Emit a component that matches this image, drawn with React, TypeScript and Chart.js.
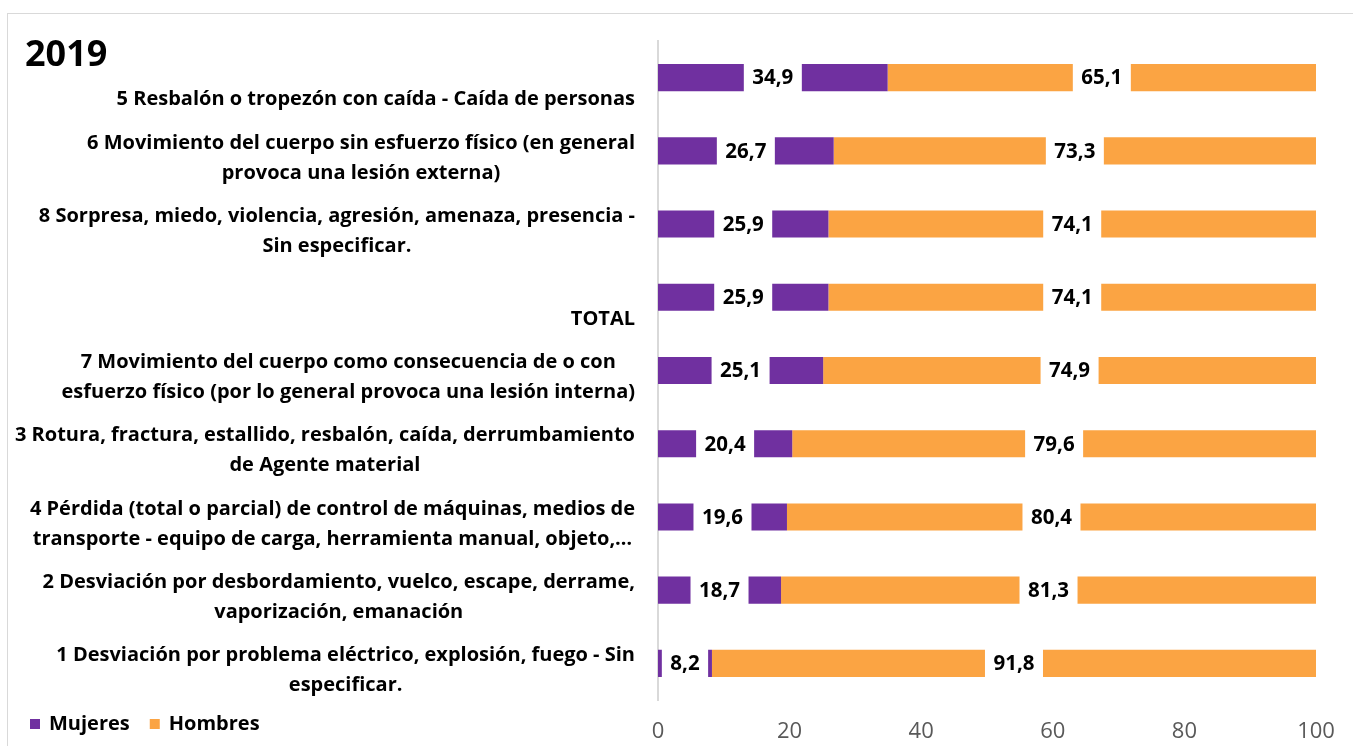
import React, { useEffect, useRef } from "react";
import { Chart, registerables } from "chart.js";

Chart.register(...registerables);

const chartTitle = "2019";
const categories: string[][] = [
  ["", "5 Resbalón o tropezón con caída - Caída de personas"],
  ["6 Movimiento del cuerpo sin esfuerzo físico (en general", "provoca una lesión externa)"],
  ["8 Sorpresa, miedo, violencia, agresión, amenaza, presencia -", "Sin especificar."],
  ["", "TOTAL"],
  ["7 Movimiento del cuerpo como consecuencia de o con", "esfuerzo físico (por lo general provoca una lesión interna)"],
  ["3 Rotura, fractura, estallido, resbalón, caída, derrumbamiento", "de Agente material"],
  ["4 Pérdida (total o parcial) de control de máquinas, medios de", "transporte - equipo de carga, herramienta manual, objeto,…"],
  ["2 Desviación por desbordamiento, vuelco, escape, derrame,", "vaporización, emanación"],
  ["1 Desviación por problema eléctrico, explosión, fuego - Sin", "especificar."],
];
const mujeres = [34.9, 26.7, 25.9, 25.9, 25.1, 20.4, 19.6, 18.7, 8.2];
const hombres = [65.1, 73.3, 74.1, 74.1, 74.9, 79.6, 80.4, 81.3, 91.8];
const seriesNames = ["Mujeres", "Hombres"];
const xMin = 0;
const xMax = 100;
const xStep = 20;

const PURPLE = "#7030A0";
const ORANGE = "#FBA443";
const FONT = "'Open Sans', 'DejaVu Sans', sans-serif";

const CANVAS_W = 1345;
const CANVAS_H = 732;

const decorPlugin = {
  id: "decor",
  afterDatasetsDraw(chart: any) {
    const ctx = chart.ctx;
    ctx.save();
    ctx.font = `bold 20.5px ${FONT}`;
    ctx.textAlign = "center";
    ctx.textBaseline = "middle";
    chart.data.datasets.forEach((ds: any, di: number) => {
      const meta = chart.getDatasetMeta(di);
      meta.data.forEach((el: any, i: number) => {
        const v = ds.data[i] as number;
        const txt = v.toFixed(1).replace(".", ",");
        const cx = (el.x + el.base) / 2;
        const w = ctx.measureText(txt).width + 17;
        const h = el.height + 2;
        ctx.fillStyle = "#ffffff";
        ctx.fillRect(cx - w / 2, el.y - h / 2, w, h);
        ctx.fillStyle = "#000000";
        ctx.fillText(txt, cx, el.y + 1);
      });
    });
    ctx.restore();
  },
  afterDraw(chart: any) {
    const ctx = chart.ctx;
    const yScale = chart.scales.y;
    const area = chart.chartArea;
    ctx.save();
    ctx.font = `bold 20px ${FONT}`;
    ctx.fillStyle = "#000000";
    ctx.textAlign = "center";
    ctx.textBaseline = "middle";
    const right = area.left - 23;
    const lineH = 30;
    (chart.data.labels as string[][]).forEach((lines, i) => {
      const yc = yScale.getPixelForValue(i) + 7;
      let maxW = 0;
      lines.forEach((l) => {
        maxW = Math.max(maxW, ctx.measureText(l).width);
      });
      const cx = right - maxW / 2;
      const y0 = yc - ((lines.length - 1) * lineH) / 2;
      lines.forEach((l, k) => {
        if (l) ctx.fillText(l, cx, y0 + k * lineH);
      });
    });
    // title
    ctx.textAlign = "left";
    ctx.textBaseline = "alphabetic";
    ctx.font = `bold 36px ${FONT}`;
    ctx.fillText(chartTitle, 17, 52);
    // legend
    ctx.font = `bold 20px ${FONT}`;
    ctx.textBaseline = "middle";
    let x = 22;
    const ly = 710;
    chart.data.datasets.forEach((ds: any) => {
      ctx.fillStyle = ds.backgroundColor;
      ctx.fillRect(x, ly - 5, 10, 10);
      ctx.fillStyle = "#000000";
      ctx.fillText(ds.label, x + 19, ly);
      x += 19 + ctx.measureText(ds.label).width + 20;
    });
    ctx.restore();
  },
};

export default function App() {
  const ref = useRef<HTMLCanvasElement | null>(null);
  useEffect(() => {
    if (!ref.current) return;
    const chart = new Chart(ref.current, {
      type: "bar",
      data: {
        labels: categories as any,
        datasets: [
          {
            label: seriesNames[0],
            data: mujeres,
            backgroundColor: PURPLE,
            barPercentage: 0.37,
            categoryPercentage: 1,
          },
          {
            label: seriesNames[1],
            data: hombres,
            backgroundColor: ORANGE,
            barPercentage: 0.37,
            categoryPercentage: 1,
          },
        ],
      },
      options: {
        indexAxis: "y",
        responsive: false,
        animation: false,
        devicePixelRatio: 1,
        layout: { padding: { top: 27, right: 37, bottom: 0, left: 0 } },
        plugins: {
          legend: { display: false },
          tooltip: { enabled: false },
          title: { display: false },
        },
        scales: {
          x: {
            stacked: true,
            min: xMin,
            max: xMax,
            grid: { display: false },
            border: { display: false },
            ticks: {
              stepSize: xStep,
              padding: 11,
              color: "#595959",
              font: { family: FONT, size: 22 },
            },
            afterFit: (scale: any) => {
              scale.height = 46;
            },
          },
          y: {
            stacked: true,
            grid: { display: false },
            border: { display: true, color: "#d9d9d9", width: 2 },
            ticks: { display: false },
            afterFit: (scale: any) => {
              scale.width = 650;
            },
          },
        },
      } as any,
      plugins: [decorPlugin],
    });
    return () => chart.destroy();
  }, []);
  return (
    <div
      style={{
        position: "absolute",
        left: 7,
        top: 13,
        width: CANVAS_W,
        height: CANVAS_H,
        borderTop: "1px solid #d9d9d9",
        borderLeft: "1px solid #d9d9d9",
        background: "#ffffff",
      }}
    >
      <canvas ref={ref} width={CANVAS_W} height={CANVAS_H} style={{ display: "block" }} />
    </div>
  );
}
